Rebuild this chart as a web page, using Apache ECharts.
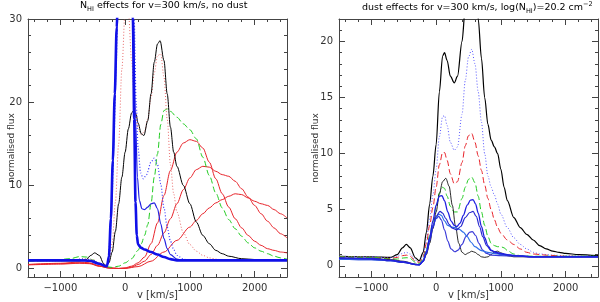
<!DOCTYPE html>
<html><head><meta charset="utf-8">
<script src="https://cdn.jsdelivr.net/npm/echarts@6/dist/echarts.min.js"></script>
<style>html,body{margin:0;padding:0;background:#fff}#c{width:600px;height:302px}</style>
</head><body><div id="c"></div>
<script>
// ---------- data: [v (km/s), normalised flux] ----------
// Left panel: N_HI effects, no dust
const L_red3 = [[-1500,0.45],[-1000,0.55],[-700,0.65],[-550,0.6],[-400,0.3],[-250,0.08],[-100,0.02],[0,0.03],[200,0.25],[400,0.9],[600,2],[800,3.4],[1000,5],[1100,5.8],[1200,6.6],[1300,7.3],[1400,7.9],[1500,8.3],[1600,8.7],[1700,9],[1800,8.9],[1900,8.5],[2000,8.1],[2100,7.8],[2200,7.6],[2300,7.1],[2400,6.6],[2500,6.1]];
const L_red2 = [[-1500,0.5],[-1000,0.6],[-700,0.7],[-550,0.65],[-400,0.3],[-250,0.08],[-100,0.02],[0,0.05],[100,0.2],[200,0.5],[300,0.9],[400,1.7],[500,2.8],[600,4.3],[700,6],[800,7.8],[900,9.5],[1000,10.9],[1100,11.9],[1200,12.3],[1300,12.2],[1400,11.7],[1500,11.3],[1600,11.1],[1700,10.5],[1800,9.6],[1900,8.6],[2000,7.6],[2100,6.6],[2200,5.7],[2300,4.9],[2400,4.2],[2500,3.7]];
const L_red1 = [[-1500,0.5],[-1000,0.65],[-700,0.8],[-550,0.7],[-400,0.35],[-250,0.1],[-100,0.03],[0,0.1],[100,0.3],[200,0.7],[300,1.4],[400,3],[500,5.5],[600,8.8],[700,11.8],[800,14],[900,15.1],[1000,15.5],[1100,15.3],[1200,14.5],[1300,12.8],[1400,10.8],[1500,9],[1600,7.4],[1700,6],[1800,4.9],[1900,4],[2000,3.3],[2100,2.8],[2200,2.4],[2300,2.2],[2400,2],[2500,1.9]];
const L_green = [[-1500,0.9],[-1100,1.0],[-850,1.2],[-700,1.45],[-600,1.4],[-500,1.05],[-400,0.6],[-300,0.25],[-200,0.15],[-100,0.3],[0,0.7],[100,1.2],[200,2.2],[250,3],[300,4],[350,5.3],[400,7.8],[450,11],[500,13.8],[550,17.3],[600,19],[650,19.2],[700,18.9],[800,18.2],[900,17.4],[1000,16.7],[1100,15.6],[1200,13.4],[1300,11.2],[1400,9.1],[1500,7.3],[1600,5.9],[1700,4.8],[1800,3.9],[1900,3.1],[2000,2.5],[2100,2.1],[2200,1.8],[2300,1.5],[2400,1.3],[2500,1.15]];
const L_redDot = [[-1500,0.95],[-1000,0.95],[-800,1.05],[-650,1.2],[-500,1.1],[-400,0.7],[-300,0.3],[-250,0.8],[-200,3],[-150,8],[-100,15],[-50,24],[0,31],[50,31],[100,25],[150,19.5],[200,16.8],[250,16.1],[300,16.5],[350,18],[400,20.5],[450,23.5],[500,25.6],[550,25.8],[600,23],[650,18],[700,12.5],[750,9],[800,6.8],[900,4.3],[1000,2.9],[1100,2.1],[1200,1.6],[1300,1.3],[1400,1.15],[1500,1.05],[1800,1.0],[2500,1.0]];
const L_black = [[-1500,0.95],[-1000,0.95],[-700,0.95],[-600,1.1],[-530,1.6],[-470,1.9],[-400,1.6],[-330,0.6],[-290,0.35],[-250,0.7],[-200,2],[-150,4.5],[-100,7.8],[-50,11],[0,14],[50,16.8],[100,18.7],[130,19],[170,18.5],[200,17.5],[250,16.2],[290,16],[350,17.8],[400,21],[450,24.8],[500,27],[540,27.4],[600,25],[650,21],[700,17],[750,14],[800,12.3],[900,10],[1000,7.8],[1100,5.6],[1200,4],[1300,3],[1400,2.2],[1500,1.8],[1600,1.5],[1800,1.2],[2000,1.1],[2500,1.0]];
const L_blueDot = [[-1500,1.0],[-1000,1.0],[-800,1.05],[-650,1.15],[-500,1.0],[-400,0.6],[-300,0.3],[-260,0.9],[-230,4],[-200,9],[-170,16],[-140,24],[-110,32],[0,45],[100,40],[140,30],[170,20],[200,14.5],[240,11.5],[280,10.8],[330,11.3],[400,12.8],[450,13.3],[500,12.5],[550,10.2],[600,7.3],[650,5],[700,3.3],[750,2.3],[800,1.6],[900,1.15],[1000,1.0],[2500,1.0]];
const L_blueThin = [[-1500,1.0],[-1000,1.0],[-700,1.0],[-500,0.95],[-400,0.6],[-300,0.3],[-280,0.3],[-250,1.3],[-220,5.5],[-190,12],[-160,20],[-130,28],[-100,36],[0,45],[100,38],[130,30],[160,18],[190,11],[220,8.2],[260,7.2],[300,7.1],[350,7.4],[400,7.8],[450,7.9],[500,7.2],[550,5.4],[600,3.6],[650,2.4],[700,1.7],[800,1.15],[900,1.0],[2500,1.0]];
const L_blueThick = [[-1500,1.0],[-1000,1.0],[-700,1.0],[-550,0.95],[-400,0.6],[-300,0.3],[-280,0.3],[-250,1.5],[-220,6],[-190,13],[-160,21],[-130,29],[-100,37],[0,50],[100,38],[120,30],[140,18],[160,8],[180,4],[200,2.9],[250,2.5],[300,2.3],[400,2.0],[500,1.7],[600,1.4],[700,1.15],[800,1.0],[2500,1.0]];

// Right panel: dust effects, log(N_HI)=20.2
const R_black = [[-1500,0.85],[-1000,0.8],[-700,0.75],[-600,1.0],[-520,1.6],[-460,1.9],[-400,1.6],[-320,0.7],[-260,0.45],[-200,1.2],[-150,3],[-100,5.5],[-50,8],[0,10.8],[50,15.5],[100,18.7],[130,19],[170,18.3],[220,16.9],[280,16.3],[330,16.9],[400,20],[450,23],[500,25.5],[550,26.5],[600,25.5],[650,22],[700,18.5],[750,15],[800,12.6],[850,11.2],[900,10.6],[950,10],[1000,8.6],[1050,7],[1100,5.8],[1200,4.3],[1300,3.4],[1400,2.8],[1500,2.3],[1600,1.8],[1700,1.5],[1800,1.3],[1900,1.2],[2000,1.1],[2200,1.0],[2500,0.9]];
const R_blueDot = [[-1500,0.85],[-1000,0.8],[-700,0.7],[-600,0.85],[-520,1.1],[-460,1.2],[-400,1.05],[-320,0.5],[-260,0.35],[-200,0.9],[-150,2.3],[-100,4.2],[-50,6.3],[0,8.6],[50,11.5],[100,13.3],[130,13.4],[170,12.5],[220,11],[280,10.3],[330,10.6],[400,13.5],[450,16.5],[500,18.6],[550,19.3],[600,18],[650,15.5],[700,12.8],[750,10],[800,8],[850,7],[900,6.3],[950,5.5],[1000,4.6],[1100,3.4],[1200,2.5],[1300,1.9],[1400,1.5],[1500,1.2],[1600,1.05],[1800,0.95],[2000,0.9],[2500,0.85]];
const R_redDash = [[-1500,0.8],[-1000,0.75],[-700,0.65],[-600,0.75],[-520,0.9],[-460,0.95],[-400,0.85],[-320,0.4],[-260,0.3],[-200,0.8],[-150,2],[-100,3.6],[-50,5.2],[0,7],[50,9],[100,10.1],[130,10.1],[170,9.4],[220,8.2],[280,7.3],[330,7.5],[400,9.2],[450,10.7],[500,11.6],[550,11.8],[600,11],[650,9.8],[700,8.5],[750,7.2],[800,6],[850,5],[900,4.1],[950,3.4],[1000,2.9],[1100,2.3],[1200,1.9],[1300,1.5],[1400,1.2],[1500,1.05],[1700,0.95],[2000,0.85],[2500,0.8]];
const R_green = [[-1500,0.8],[-1000,0.75],[-700,0.6],[-600,0.6],[-500,0.7],[-450,0.72],[-400,0.65],[-320,0.3],[-260,0.2],[-200,0.6],[-150,1.5],[-100,2.7],[-50,3.9],[0,5.2],[50,6.5],[100,7.0],[130,6.9],[170,6.2],[220,5.3],[280,4.8],[330,4.8],[400,6.0],[450,7.0],[500,7.7],[550,7.9],[600,7.4],[650,6.2],[700,4.8],[750,3.6],[800,2.6],[850,2.0],[900,1.8],[950,1.7],[1000,1.7],[1050,1.6],[1100,1.35],[1200,1.05],[1300,0.9],[1500,0.85],[2500,0.85]];
const R_blackThin = [[-1500,0.7],[-1000,0.65],[-700,0.55],[-500,0.4],[-320,0.15],[-260,0.1],[-200,0.4],[-150,1],[-100,2],[-50,3.3],[0,4.8],[50,6.4],[100,7.5],[150,7.8],[200,7.1],[250,5.4],[300,3.5],[350,2.0],[400,1.2],[450,1.0],[500,1.15],[550,1.3],[600,1.2],[650,1.0],[700,0.8],[750,0.75],[800,0.8],[850,1.0],[900,1.25],[950,1.3],[1000,1.15],[1100,0.9],[1200,0.8],[2500,0.8]];
const R_blue1 = [[-1500,0.7],[-1000,0.65],[-700,0.5],[-500,0.35],[-320,0.12],[-260,0.1],[-200,0.4],[-150,1.2],[-100,2.5],[-50,4],[0,5.4],[50,6.2],[90,6.25],[130,5.8],[180,4.8],[230,4.0],[280,3.6],[320,3.5],[370,3.8],[420,4.5],[480,5.4],[530,5.85],[570,5.9],[610,5.5],[650,4.7],[700,3.5],[750,2.5],[800,1.8],[850,1.4],[900,1.25],[1000,1.1],[1100,1.0],[1200,0.9],[1500,0.8],[2500,0.8]];
const R_blue2 = [[-1500,0.65],[-1000,0.6],[-700,0.45],[-500,0.3],[-320,0.1],[-260,0.08],[-200,0.4],[-150,1.1],[-100,2.2],[-50,3.4],[0,4.4],[60,4.85],[100,4.7],[150,4.2],[200,3.7],[250,3.35],[320,3.2],[380,3.5],[450,4.3],[520,4.75],[570,4.85],[620,4.4],[670,3.5],[720,2.6],[780,1.8],[850,1.35],[950,1.1],[1100,0.95],[1500,0.8],[2500,0.8]];
const R_blue3 = [[-1500,0.6],[-1000,0.55],[-700,0.45],[-500,0.3],[-320,0.1],[-260,0.08],[-200,0.45],[-150,1.2],[-100,2.3],[-50,3.5],[0,4.3],[40,4.6],[80,4.5],[130,4.0],[180,3.6],[240,3.45],[300,3.4],[360,3.25],[420,3.0],[480,2.6],[540,2.1],[600,1.7],[700,1.35],[800,1.2],[900,1.1],[1000,1.0],[1500,0.8],[2500,0.8]];
const R_blue4 = [[-1500,0.6],[-1000,0.55],[-700,0.45],[-500,0.3],[-320,0.1],[-260,0.08],[-200,0.5],[-150,1.3],[-100,2.5],[-50,3.6],[0,4.2],[40,4.4],[80,4.1],[130,3.2],[180,2.2],[230,1.5],[290,1.25],[340,1.4],[400,1.9],[460,2.6],[520,3.0],[560,3.05],[610,2.7],[660,2.0],[720,1.4],[780,1.1],[850,0.95],[1000,0.9],[1500,0.8],[2500,0.8]];

// ---------- axis ticks ----------
const xMajor = [-1000, 0, 1000, 2000];
const yMajorL = [0, 10, 20, 30];
const yMajorR = [0, 5, 10, 15, 20];
const xMinor = []; for (let v = -1400; v <= 2400; v += 200) if (v % 1000 !== 0) xMinor.push(v);
const yMinorL = []; for (let v = 2; v <= 28; v += 2) if (v % 10 !== 0) yMinorL.push(v);
const yMinorR = []; for (let v = 1; v <= 21; v += 1) if (v % 5 !== 0) yMinorR.push(v);

const FONT = 'DejaVu Sans';
const AX = '#444';
const grids = [
  {left: 28, top: 19, width: 259, height: 258, outerBoundsMode: 'none', containLabel: false},
  {left: 339, top: 19, width: 259, height: 258, outerBoundsMode: 'none', containLabel: false}
];
function xAxes(g) {
  const base = {type: 'value', gridIndex: g, min: -1500, max: 2500, splitLine: {show: false}};
  return [
    Object.assign({}, base, {position: 'bottom',
      axisLine: {onZero: false, lineStyle: {color: AX, width: 1}},
      axisTick: {inside: true, length: 6, customValues: xMajor, lineStyle: {color: AX}},
      axisLabel: {customValues: xMajor, margin: 6, fontSize: 10, color: '#333', fontFamily: FONT,
        formatter: v => String(v).replace('-', '\u2212')},
      name: 'v [km/s]', nameLocation: 'middle', nameGap: 13, nameMoveOverlap: false,
      nameTextStyle: {fontSize: 10, color: '#333', fontFamily: FONT, verticalAlign: 'top'}}),
    Object.assign({}, base, {position: 'bottom', axisLine: {show: false, onZero: false},
      axisTick: {inside: true, length: 3, customValues: xMinor, lineStyle: {color: AX}},
      axisLabel: {show: false}}),
    Object.assign({}, base, {position: 'top',
      axisLine: {onZero: false, lineStyle: {color: AX, width: 1}},
      axisTick: {inside: true, length: 6, customValues: xMajor, lineStyle: {color: AX}},
      axisLabel: {show: false}}),
    Object.assign({}, base, {position: 'top', axisLine: {show: false, onZero: false},
      axisTick: {inside: true, length: 3, customValues: xMinor, lineStyle: {color: AX}},
      axisLabel: {show: false}})
  ];
}
function yAxes(g, max, major, minor, gap) {
  const base = {type: 'value', gridIndex: g, min: -1, max: max, splitLine: {show: false}};
  return [
    Object.assign({}, base, {position: 'left',
      axisLine: {onZero: false, lineStyle: {color: AX, width: 1}},
      axisTick: {inside: true, length: 6, customValues: major, lineStyle: {color: AX}},
      axisLabel: {customValues: major, margin: 6, fontSize: 10, color: '#333', fontFamily: FONT},
      name: 'normalised flux', nameLocation: 'middle', nameGap: gap, nameMoveOverlap: false,
      nameTextStyle: {fontSize: 9, color: '#333', fontFamily: FONT}}),
    Object.assign({}, base, {position: 'left', axisLine: {show: false, onZero: false},
      axisTick: {inside: true, length: 3, customValues: minor, lineStyle: {color: AX}},
      axisLabel: {show: false}}),
    Object.assign({}, base, {position: 'right',
      axisLine: {onZero: false, lineStyle: {color: AX, width: 1}},
      axisTick: {inside: true, length: 6, customValues: major, lineStyle: {color: AX}},
      axisLabel: {show: false}}),
    Object.assign({}, base, {position: 'right', axisLine: {show: false, onZero: false},
      axisTick: {inside: true, length: 3, customValues: minor, lineStyle: {color: AX}},
      axisLabel: {show: false}})
  ];
}
function ser(data, panel, color, width, type) {
  return {type: 'line', data: data, xAxisIndex: panel * 4, yAxisIndex: panel * 4,
    showSymbol: false, smooth: 0.3, smoothMonotone: 'x', clip: true, silent: true,
    lineStyle: {color: color, width: width, type: type || 'solid'}};
}
const series = [
  ser(L_red3, 0, '#e8232a', 1),
  ser(L_red2, 0, '#e8232a', 1),
  ser(L_red1, 0, '#e8232a', 1),
  ser(L_green, 0, '#22cc22', 1, [6, 3]),
  ser(L_redDot, 0, '#e86a6a', 1, [1, 2]),
  ser(L_black, 0, '#000000', 1),
  ser(L_blueDot, 0, '#3a3aff', 1.2, [1, 2]),
  ser(L_blueThin, 0, '#2020e0', 1.2),
  ser(L_blueThick, 0, '#1010e8', 2.6),
  ser(R_black, 1, '#000000', 1.2),
  ser(R_blueDot, 1, '#5a5aff', 1, [1, 2]),
  ser(R_redDash, 1, '#e8232a', 1, [6, 3]),
  ser(R_green, 1, '#22cc22', 1, [6, 3]),
  ser(R_blackThin, 1, '#111111', 0.9),
  ser(R_blue4, 1, '#3a3ad8', 1.2),
  ser(R_blue3, 1, '#2f6fe8', 1.2),
  ser(R_blue2, 1, '#2a2ad0', 1.2),
  ser(R_blue1, 1, '#2020e0', 1.3)
];
const rich = {
  a: {fontSize: 9.5, color: '#333', fontFamily: FONT, lineHeight: 14, verticalAlign: 'middle'},
  sub: {fontSize: 6.5, color: '#333', fontFamily: FONT, lineHeight: 14, verticalAlign: 'bottom'},
  sup: {fontSize: 6.5, color: '#333', fontFamily: FONT, lineHeight: 14, verticalAlign: 'top'}
};
const chart = echarts.init(document.getElementById('c'), null, {renderer: 'canvas'});
chart.setOption({
  animation: false,
  backgroundColor: '#fff',
  grid: grids,
  xAxis: xAxes(0).concat(xAxes(1)),
  yAxis: yAxes(0, 30, yMajorL, yMinorL, 12).concat(yAxes(1, 22, yMajorR, yMinorR, 19)),
  series: series,
  graphic: [
    {type: 'text', left: 80, top: 1, style: {text: '{a|N}{sub|HI}{a| effects for v=300 km/s, no dust}', rich: rich}},
    {type: 'text', left: 362, top: 1, style: {text: '{a|dust effects for v=300 km/s, log(N}{sub|HI}{a|)=20.2 cm}{sup|\u22122}', rich: rich}}
  ]
});
</script></body></html>
